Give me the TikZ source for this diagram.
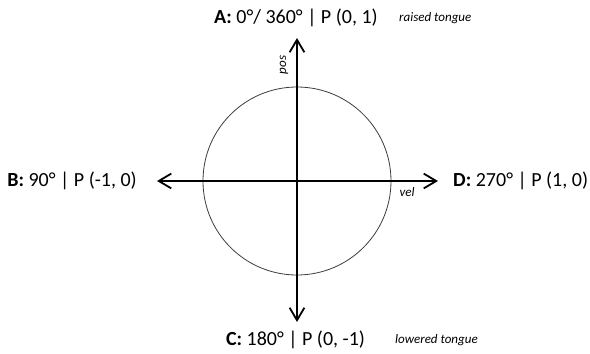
\documentclass[tikz,border=0pt]{standalone}
\usepackage{fontspec}
\setmainfont{Carlito}
\usetikzlibrary{positioning, arrows.meta}
\definecolor{ink}{RGB}{0,0,0}
\definecolor{rim}{RGB}{60,60,60}
\tikzset{
  axis/.style     ={{Straight Barb[length=4.4mm, width=5.2mm, line width=1.8pt]}-{Straight Barb[length=4.4mm, width=5.2mm, line width=1.8pt]},
                    line width=2.4pt, color=ink},
  ring/.style     ={draw=rim, line width=0.8pt},
  phaselabel/.style={font=\fontsize{20}{22}\selectfont, color=ink, inner sep=0pt},
  notelabel/.style={font=\fontsize{13}{15}\selectfont\itshape, color=ink, inner sep=0pt},
}
\begin{document}
\begin{tikzpicture}[x=1pt, y=1pt]
\useasboundingbox (-297,-173) rectangle (293,181);
\coordinate (o) at (0,0);
\node[ring, circle, minimum size=188pt, inner sep=0pt] (phase) at (o) {};

\coordinate (top) at (0,143);
\coordinate (bot) at (0,-141);
\coordinate (lft) at (-140,0);
\coordinate (rgt) at (141,0);

\draw[axis] (bot) -- (top);
\draw[axis] (lft) -- (rgt);

\node[phaselabel] (A) at (-1,163) {\textbf{A:} 0°/ 360° | P (0, 1)};
\node[notelabel, anchor=west] (raised) at (102,163) {raised tongue};
\node[phaselabel, anchor=east] (B) at (-160,0) {\textbf{B:} 90° | P (-1, 0)};
\node[phaselabel, anchor=west] (D) at (156,0) {\textbf{D:} 270° | P (1, 0)};
\node[phaselabel] (C) at (-1.5,-159) {\textbf{C:} 180° | P (0, -1)};
\node[notelabel, anchor=west] (lowered) at (98,-159) {lowered tongue};

\node[notelabel, rotate=90] (pos) at (-13,116) {pos};
\node[notelabel] (vel) at (110,-11) {vel};
\end{tikzpicture}
\end{document}
